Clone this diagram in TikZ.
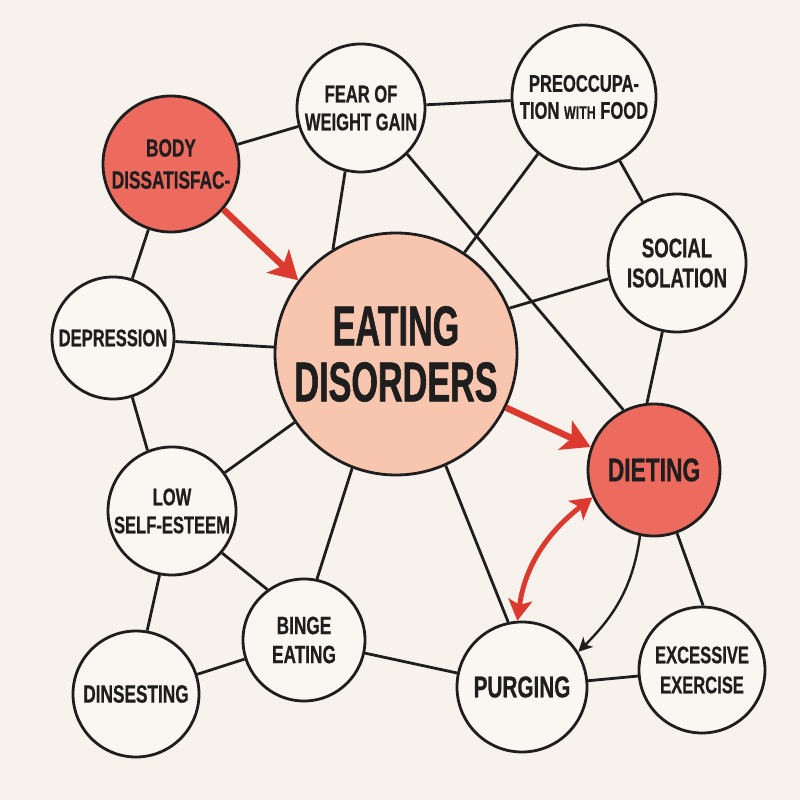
\documentclass[tikz,border=0pt]{standalone}
\usepackage{fontspec}
\setmainfont{Liberation Sans}
\newfontfamily\nodefont[FakeStretch=0.69, FakeBold=0.6]{Liberation Sans}
\newfontfamily\titlefont[FakeStretch=0.61, FakeBold=1]{Liberation Sans}
\usetikzlibrary{arrows.meta}

\definecolor{paper}{HTML}{F7F2EC}
\definecolor{nodefill}{HTML}{FAF6F1}
\definecolor{hotfill}{HTML}{EC6A5E}
\definecolor{corefill}{HTML}{F8C6AE}
\definecolor{arrowred}{HTML}{DC3A2E}
\definecolor{ink}{HTML}{1E1E1E}

\begin{document}
\begin{tikzpicture}[x=1pt, y=1pt,
    factor/.style={circle, draw=ink, line width=2.8pt, fill=nodefill, text=ink, align=center, inner sep=0pt},
    hot/.style={factor, fill=hotfill},
    core/.style={factor, fill=corefill},
    fsize/.style 2 args={font=\nodefont\bfseries\fontsize{#1}{#2}\selectfont},
    link/.style={draw=ink, line width=2.8pt},
    push/.style={draw=arrowred, line width=6.5pt, -{Stealth[length=28pt, width=32pt, inset=7pt]}},
    mutual/.style={draw=arrowred, line width=5pt, {Stealth[length=21pt, width=24pt, inset=5pt]}-{Stealth[length=21pt, width=24pt, inset=5pt]}},
    flow/.style={draw=ink, line width=2.4pt, -{Stealth[length=14pt, width=14pt, inset=4pt]}}
  ]
         \fill[paper] (0,0) rectangle (800,800);
         \useasboundingbox (0,0) rectangle (800,800);
         % the circles
         \node[core, minimum size=242pt, font=\titlefont\bfseries\fontsize{56}{56}\selectfont] (ed) at (396,446) {EATING\\DISORDERS};
         \node[hot, minimum size=136pt, fsize={25}{32}] (body) at (171,636) {BODY\\DISSATISFAC-};
         \node[factor, minimum size=128pt, fsize={24}{28}] (fear) at (361,692) {FEAR OF\\WEIGHT GAIN};
         \node[factor, minimum size=144pt, fsize={24}{27}] (preoc) at (584,703) {PREOCCUPA-\\TION {\fontsize{18}{20}\selectfont WITH} FOOD};
         \node[factor, minimum size=138pt, fsize={27}{30}] (social) at (677,537) {SOCIAL\\ISOLATION};
         \node[factor, minimum size=122pt, fsize={24}{28}] (depr) at (113,462) {DEPRESSION};
         \node[hot, minimum size=132pt, fsize={33}{36}] (dieting) at (654,330) {DIETING};
         \node[factor, minimum size=128pt, fsize={24}{28}] (lse) at (172,289) {LOW\\SELF-ESTEEM};
         \node[factor, minimum size=122pt, fsize={25}{29}] (binge) at (304,160) {BINGE\\EATING};
         \node[factor, minimum size=126pt, fsize={25}{29}] (dinse) at (136,106) {DINSESTING};
         \node[factor, minimum size=130pt, fsize={30}{34}] (purging) at (522,113) {PURGING};
         \node[factor, minimum size=126pt, fsize={24}{30}] (excess) at (702,130) {EXCESSIVE\\EXERCISE};
         % plain links
         \draw[link] (body) -- (fear);
         \draw[link] (body.251) -- (depr.72);
         \draw[link] (fear) -- (preoc);
         \draw[link] (fear.256) -- (ed.121);
         \draw[link] (fear.315) -- (dieting.117);
         \draw[link] (preoc.231) -- (ed.56);
         \draw[link] (preoc) -- (social);
         \draw[link] (social.193) -- (ed.22);
         \draw[link] (social.258) -- (dieting.96);
         \draw[link] (depr) -- (ed);
         \draw[link] (depr.288) -- (lse.112);
         \draw[link] (lse.36) -- (ed.214);
         \draw[link] (lse.320) -- (binge.126);
         \draw[link] (lse.259) -- (dinse.80);
         \draw[link] (binge) -- (dinse);
         \draw[link] (binge.78) -- (ed.249);
         \draw[link] (binge) -- (purging);
         \draw[link] (ed.294) -- (purging.102);
         \draw[link] (purging) -- (excess);
         \draw[link] (dieting.290) -- (excess.89);
         % arrows
         \draw[flow] (dieting.258) to[out=262, in=45] (purging.32);
         \draw[push] (body.319) -- (ed.143);
         \draw[push] (ed.334) -- (dieting.160);
         \draw[mutual] (purging.94) to[out=82, in=218] (dieting.204);
      \end{tikzpicture}
\end{document}
